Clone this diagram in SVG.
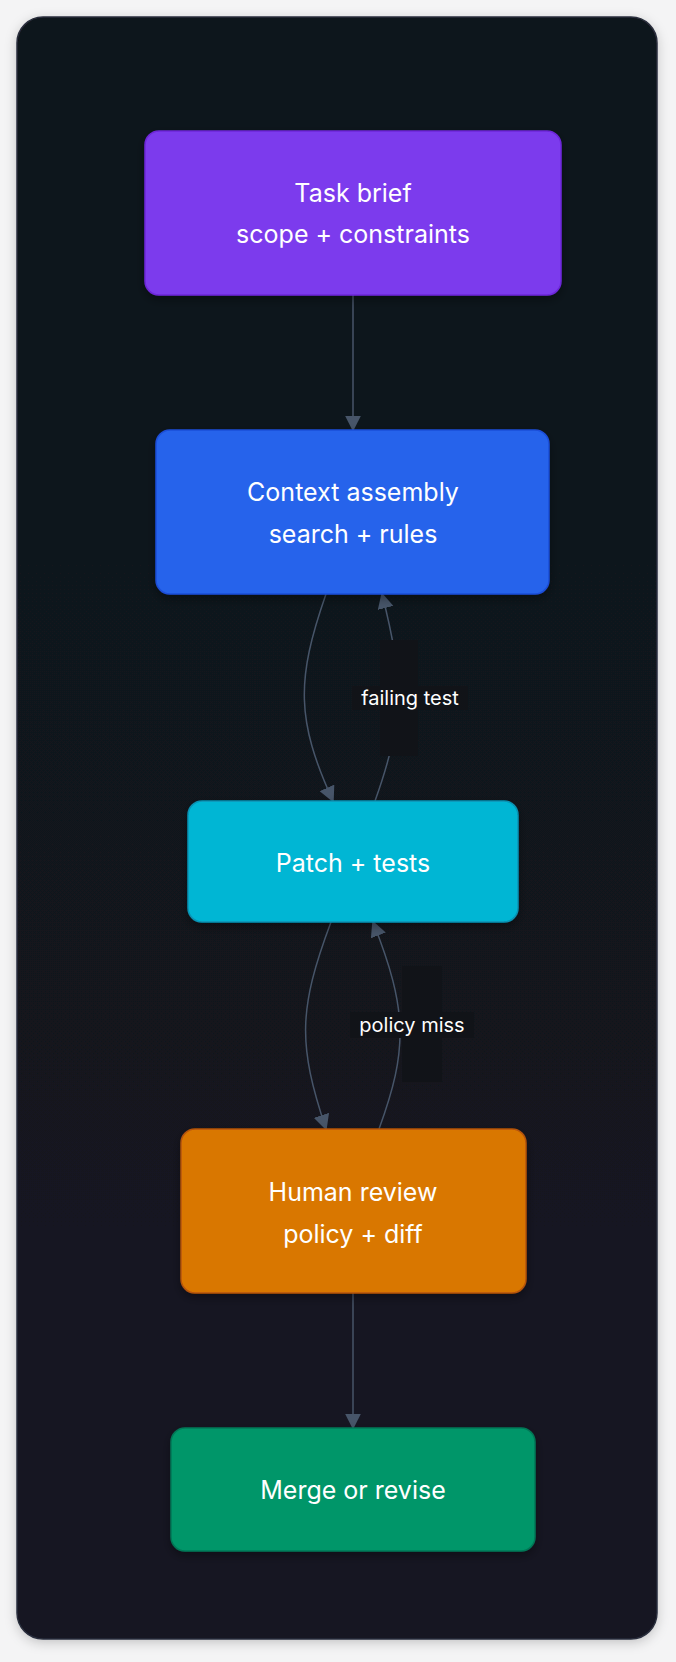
<svg xmlns="http://www.w3.org/2000/svg" width="676" height="1662" viewBox="0 0 676 1662">
<defs>
<linearGradient id="bg" x1="0" y1="0" x2="0" y2="1"><stop offset="0" stop-color="#10121a"/><stop offset="1" stop-color="#131522"/></linearGradient>
<filter id="sh" x="-10%" y="-10%" width="120%" height="130%"><feDropShadow dx="0" dy="4" stdDeviation="5" flood-color="#000" flood-opacity="0.35"/></filter>
<filter id="csh" x="-5%" y="-5%" width="110%" height="110%"><feDropShadow dx="0" dy="3" stdDeviation="6" flood-color="#000" flood-opacity="0.2"/></filter>
<marker id="ah" viewBox="0 0 10 10" refX="9" refY="5" markerWidth="7.5" markerHeight="7.5" markerUnits="userSpaceOnUse" orient="auto"><path d="M0,0 L10,5 L0,10 z" fill="#475569"/></marker>
<marker id="ah2" viewBox="0 0 10 10" refX="9" refY="5" markerWidth="16" markerHeight="16" markerUnits="userSpaceOnUse" orient="auto"><path d="M0,0 L10,5 L0,10 z" fill="#475569"/></marker>
</defs>
<style>
.n{stroke-width:1.5;filter:url(#sh)}
.t{font-family:Inter,"Liberation Sans",sans-serif;font-size:25px;fill:#fff;text-anchor:middle;dominant-baseline:central}
.l{font-family:Inter,"Liberation Sans",sans-serif;font-size:20px;fill:#fff;text-anchor:middle;dominant-baseline:central}
.e{fill:none;stroke:#475569;stroke-width:1.5;marker-end:url(#ah2)}
.lb{fill:#111318}
</style>
<rect width="676" height="1662" fill="#f4f4f5"/>
<rect x="17" y="17" width="640" height="1622" rx="26" fill="url(#bg)" stroke="#2a2f3d" stroke-width="1.5" filter="url(#csh)"/>
<g id="connectors">
<path class="e" d="M353,295 L353,430"/>
<path class="e" d="M326,594 C296,680 296,720 333,801"/>
<path class="e" d="M375,801 C404,720 404,680 382,594"/>
<path class="e" d="M331,922 C298,1010 298,1045 326,1129"/>
<path class="e" d="M379,1129 C408,1050 408,1010 373,922"/>
<path class="e" d="M353,1293 L353,1428"/>
<rect class="lb" x="380" y="640" width="38" height="116"/>
<rect class="lb" x="352" y="686" width="116" height="24"/>
<text class="l" x="410" y="698">failing test</text>
<rect class="lb" x="402" y="966" width="40" height="116"/>
<rect class="lb" x="350" y="1012" width="124" height="26"/>
<text class="l" x="412" y="1025">policy miss</text>
</g>
<g id="task"><rect class="n" x="145" y="131" width="416" height="164" rx="14" fill="#7c3aed" stroke="#6d28d9"/><text class="t" x="353" y="193">Task brief</text><text class="t" x="353" y="234">scope + constraints</text></g>
<g id="context"><rect class="n" x="156" y="430" width="393" height="164" rx="14" fill="#2563eb" stroke="#1d4ed8"/><text class="t" x="353" y="492">Context assembly</text><text class="t" x="353" y="534">search + rules</text></g>
<g id="patch"><rect class="n" x="188" y="801" width="330" height="121" rx="14" fill="#06b6d4" stroke="#0891b2"/><text class="t" x="353" y="863">Patch + tests</text></g>
<g id="review"><rect class="n" x="181" y="1129" width="345" height="164" rx="14" fill="#d97706" stroke="#b45309"/><text class="t" x="353" y="1192">Human review</text><text class="t" x="353" y="1234">policy + diff</text></g>
<g id="merge"><rect class="n" x="171" y="1428" width="364" height="123" rx="14" fill="#059669" stroke="#047857"/><text class="t" x="353" y="1490">Merge or revise</text></g>
</svg>
